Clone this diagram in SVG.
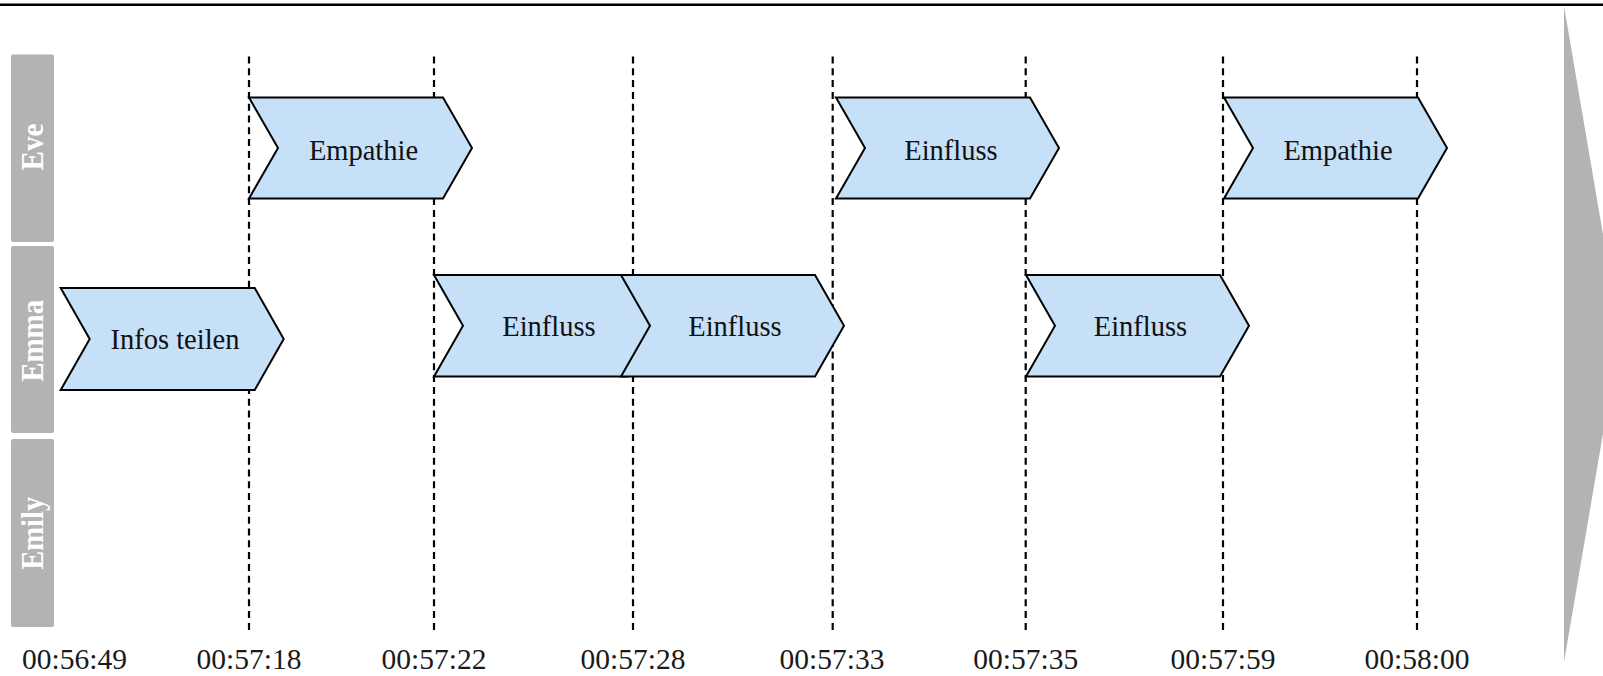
<svg xmlns="http://www.w3.org/2000/svg" width="1603" height="676" viewBox="0 0 1603 676">
  <style>
    .lane { fill: #b3b3b3; }
    .lane-label { font-family: "Liberation Serif", "Times New Roman", serif; font-weight: bold; font-size: 31px; fill: #ffffff; text-anchor: middle; }
    .tick { stroke: #000000; stroke-width: 2.2; stroke-dasharray: 7 4.8; fill: none; }
    .step { fill: #c6e0f8; stroke: #000000; stroke-width: 2; stroke-linejoin: miter; }
    .step-label { font-family: "Liberation Serif", "Times New Roman", serif; font-size: 28.5px; fill: #111111; text-anchor: middle; }
    .time { font-family: "Liberation Serif", "Times New Roman", serif; font-size: 29.5px; fill: #1a1a1a; text-anchor: middle; }
  </style>

  <rect x="0" y="0" width="1603" height="676" fill="#ffffff"/>

  <!-- header rule -->
  <rect x="0" y="3.5" width="1603" height="2.5" fill="#000000"/>

  <!-- time direction arrow on the right -->
  <polygon points="1564,6 1620,334 1564,662" fill="#b3b3b3"/>

  <!-- swimlane labels -->
  <g id="lane-eve">
    <rect class="lane" x="11" y="54.5" width="43" height="187.5" rx="2"/>
    <text class="lane-label" transform="translate(43.3,147) rotate(-90)" textLength="47" lengthAdjust="spacingAndGlyphs">Eve</text>
  </g>
  <g id="lane-emma">
    <rect class="lane" x="11" y="246" width="43" height="187" rx="2"/>
    <text class="lane-label" transform="translate(43.3,340.8) rotate(-90)" textLength="82" lengthAdjust="spacingAndGlyphs">Emma</text>
  </g>
  <g id="lane-emily">
    <rect class="lane" x="11" y="439" width="43" height="188" rx="2"/>
    <text class="lane-label" transform="translate(43.3,533.3) rotate(-90)" textLength="73" lengthAdjust="spacingAndGlyphs">Emily</text>
  </g>

  <!-- timestamp guide lines -->
  <g id="connectors">
    <line class="tick" x1="249" y1="56.5" x2="249" y2="632"/>
    <line class="tick" x1="434" y1="56.5" x2="434" y2="632"/>
    <line class="tick" x1="633" y1="56.5" x2="633" y2="632"/>
    <line class="tick" x1="832.7" y1="56.5" x2="832.7" y2="632"/>
    <line class="tick" x1="1025.7" y1="56.5" x2="1025.7" y2="632"/>
    <line class="tick" x1="1223" y1="56.5" x2="1223" y2="632"/>
    <line class="tick" x1="1417" y1="56.5" x2="1417" y2="632"/>
  </g>

  <!-- Eve -->
  <g id="eve-empathie-1">
    <path class="step" d="M249,97.5 H443 L472,148 L443,198.5 H249 L278,148 Z"/>
    <text class="step-label" x="363.5" y="160">Empathie</text>
  </g>
  <g id="eve-einfluss">
    <path class="step" d="M836,97.5 H1030 L1059,148 L1030,198.5 H836 L865,148 Z"/>
    <text class="step-label" x="951" y="160">Einfluss</text>
  </g>
  <g id="eve-empathie-2">
    <path class="step" d="M1224,97.5 H1418 L1447,148 L1418,198.5 H1224 L1253,148 Z"/>
    <text class="step-label" x="1338" y="160">Empathie</text>
  </g>

  <!-- Emma -->
  <g id="emma-infos-teilen">
    <path class="step" d="M60.7,288 H254.7 L283.7,339 L254.7,390 H60.7 L89.7,339 Z"/>
    <text class="step-label" x="175" y="349">Infos teilen</text>
  </g>
  <g id="emma-einfluss-1">
    <path class="step" d="M434,275 H628 L657,325.75 L628,376.5 H434 L463,325.75 Z"/>
    <text class="step-label" x="549" y="336">Einfluss</text>
  </g>
  <g id="emma-einfluss-2">
    <path class="step" d="M621,275 H815 L844,325.75 L815,376.5 H621 L650,325.75 Z"/>
    <text class="step-label" x="735" y="336">Einfluss</text>
  </g>
  <g id="emma-einfluss-3">
    <path class="step" d="M1026,275 H1220 L1249,325.75 L1220,376.5 H1026 L1055,325.75 Z"/>
    <text class="step-label" x="1140.5" y="336">Einfluss</text>
  </g>

  <!-- time axis -->
  <g id="time-axis">
    <text class="time" x="74.5" y="669">00:56:49</text>
    <text class="time" x="249" y="669">00:57:18</text>
    <text class="time" x="434" y="669">00:57:22</text>
    <text class="time" x="633" y="669">00:57:28</text>
    <text class="time" x="832" y="669">00:57:33</text>
    <text class="time" x="1025.7" y="669">00:57:35</text>
    <text class="time" x="1223" y="669">00:57:59</text>
    <text class="time" x="1417" y="669">00:58:00</text>
  </g>
</svg>
